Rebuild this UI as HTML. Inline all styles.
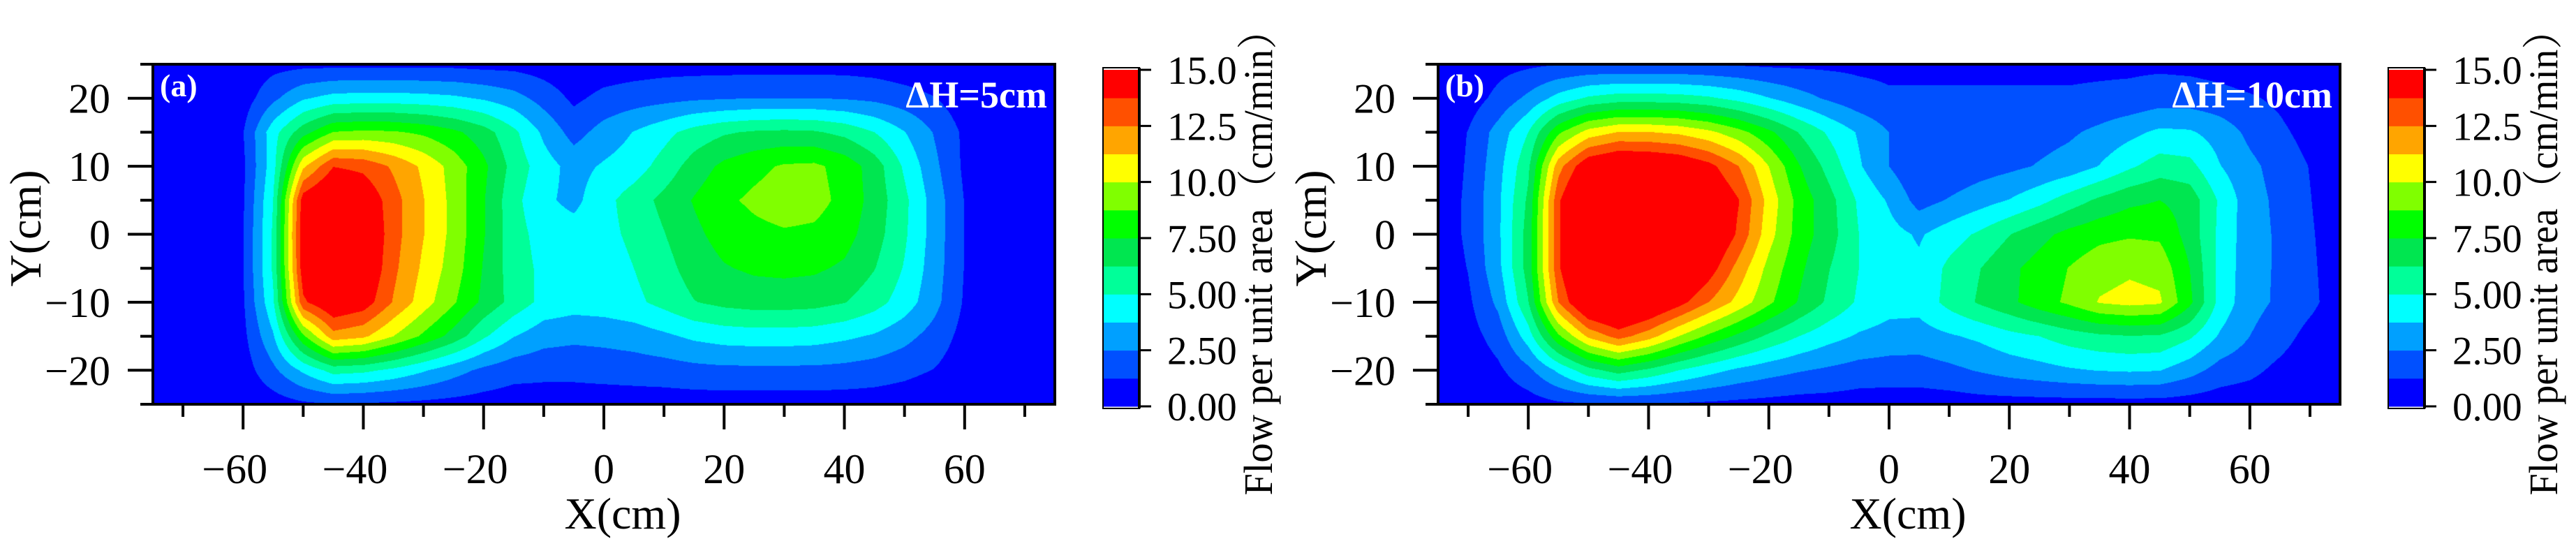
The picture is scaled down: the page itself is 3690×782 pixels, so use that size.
<!DOCTYPE html>
<html><head><meta charset="utf-8">
<style>
html,body{margin:0;padding:0;background:#fff;}
body{width:3690px;height:782px;position:relative;overflow:hidden;font-family:"Liberation Serif","Noto Serif CJK SC",serif;}
canvas{position:absolute;}
svg{position:absolute;left:0;top:0;}
</style></head>
<body>
<canvas id="heatA" width="1292" height="487" style="left:219px;top:92px;"></canvas>
<canvas id="heatB" width="1292" height="487" style="left:2060px;top:92px;"></canvas>
<svg id="axes" width="3690" height="782" xmlns="http://www.w3.org/2000/svg"></svg>
<script>
const xNodes = [-75,-70,-65,-60,-55,-50,-45,-40,-35,-30,-25,-20,-15,-10,-5,0,5,10,15,20,25,30,35,40,45,50,55,60,65,70,75];
const yNodes = [25,20,15,10,5,0,-5,-10,-15,-20,-25];
const levels = [0,1.25,2.5,3.75,5,6.25,7.5,8.75,10,11.25,12.5,13.75,15];
const bandColors = ['#0000ff','#0050ff','#00a0ff','#00ffff','#00ff99','#00e650','#00ff00','#80ff00','#ffff00','#ffa500','#ff5000','#ff0000'];
const cbTickValues = [0,2.5,5,7.5,10,12.5,15];
const cbTickLabels = ['0.00','2.50','5.00','7.50','10.0','12.5','15.0'];
const xTickValues = [-70,-60,-50,-40,-30,-20,-10,0,10,20,30,40,50,60,70];
const yTickValues = [-25,-20,-15,-10,-5,0,5,10,15,20,25];
const gridA = [
[0,0,0,0.3,0.8,0.9,0.9,0.9,0.9,0.9,0.9,0.8,0.8,0.6,0.3,0.5,0.6,0.7,0.7,0.7,0.7,0.7,0.7,0.7,0.6,0.4,0.2,0,0,0,0],
[0,0,0,0.6,2.2,3.6,4.2,4.3,4.3,4.2,4.0,3.6,3.0,2.0,1.0,1.6,1.9,2.1,2.3,2.4,2.5,2.5,2.5,2.4,2.2,1.8,1.3,0.5,0,0,0],
[0,0,0,1.2,4.5,7.0,8.8,9.0,8.9,8.5,7.8,6.8,5.3,3.5,2.0,3.0,3.8,4.6,5.5,6.1,6.4,6.5,6.4,5.9,5.0,3.8,2.4,1.0,0,0,0],
[0,0,0,1.0,4.5,11.0,13.7,13.4,12.3,11.0,9.5,7.8,5.8,4.3,3.3,3.9,4.4,5.5,6.8,7.8,8.4,8.9,9.0,8.3,6.9,4.8,2.8,1.0,0.2,0,0],
[0,0,0,1.1,5.0,14.5,16.0,15.0,13.0,11.3,9.6,7.6,5.4,4.0,3.4,4.6,5.6,6.6,7.6,8.5,9.0,9.4,9.2,8.4,7.0,5.3,3.2,1.2,0.3,0,0],
[0,0,0,1.2,5.2,14.8,16.5,15.5,13.0,11.3,9.6,7.6,5.5,4.5,4.3,4.6,5.3,6.2,7.2,8.0,8.4,8.6,8.5,8.0,6.8,5.2,3.2,1.2,0.3,0,0],
[0,0,0,1.2,5.2,14.6,16.3,15.3,12.8,11.0,9.4,7.4,5.6,4.7,4.3,4.3,5.0,5.8,6.8,7.4,7.7,7.8,7.7,7.3,6.3,4.9,3.1,1.2,0.3,0,0],
[0,0,0,1.1,4.8,13.5,15.2,14.5,12.4,10.6,8.9,7.2,5.8,4.6,4.3,4.4,4.7,5.4,6.2,6.6,6.8,6.8,6.7,6.3,5.5,4.4,2.9,1.1,0.3,0,0],
[0,0,0,0.9,3.6,8.5,12.0,11.5,10.0,8.5,7.0,5.2,3.8,3.0,2.8,2.9,3.1,3.5,4.0,4.3,4.4,4.4,4.3,4.0,3.6,2.9,2.0,0.8,0.2,0,0],
[0,0,0,0.6,2.2,4.0,5.5,5.3,4.7,3.9,3.0,2.2,1.7,1.6,1.6,1.7,1.8,1.9,2.1,2.2,2.2,2.2,2.2,2.1,1.9,1.6,1.2,0.5,0.1,0,0],
[0,0,0,0.2,0.6,1.0,1.2,1.1,1.0,0.9,0.8,0.7,0.6,0.6,0.6,0.6,0.6,0.6,0.6,0.6,0.6,0.6,0.6,0.6,0.6,0.5,0.3,0.1,0,0,0]
];
const gridB = [
[0,0.3,0.8,1.0,1.2,1.3,1.3,1.3,1.3,1.2,1.1,1.0,1.0,1.0,1.0,1.0,1.0,1.0,1.0,1.0,1.0,1.0,1.0,1.0,1.0,0.9,0.7,0.4,0.1,0,0],
[0,0.6,1.6,2.8,4.2,5.2,5.6,5.6,5.5,5.2,4.6,3.8,3.0,2.3,1.7,1.4,1.4,1.4,1.4,1.4,1.4,1.4,1.5,1.6,1.9,1.9,1.7,1.4,1.0,0.4,0],
[0.2,1.3,3.0,5.0,8.5,10.5,11.3,11.3,11.0,10.3,9.2,7.8,6.2,4.8,3.6,2.5,1.6,1.6,1.7,1.8,2.0,2.3,2.8,3.4,4.0,3.9,3.2,2.2,1.5,0.8,0.2],
[0.3,1.4,3.3,6.0,12.0,15.0,15.8,15.6,15.2,14.2,12.5,10.0,7.6,5.8,3.9,2.5,1.3,1.5,1.9,2.2,2.6,3.0,3.8,4.8,5.6,5.4,3.8,2.8,2.0,1.2,0.3],
[0.4,1.5,3.5,6.5,13.5,17.0,17.8,17.6,17.0,15.5,13.8,10.8,8.3,6.7,4.8,3.6,2.0,2.6,3.2,3.8,4.6,5.6,6.5,7.2,7.5,7.0,4.8,3.0,2.2,1.3,0.4],
[0.4,1.5,3.5,6.8,13.5,17.2,18.0,17.8,17.2,15.8,13.5,10.5,8.2,6.8,5.0,4.2,3.6,4.4,5.2,6.2,7.1,7.9,8.4,8.6,8.5,7.0,4.7,3.0,2.3,1.4,0.5],
[0.3,1.3,3.4,6.8,13.5,17.2,18.0,17.6,16.5,14.5,12.0,9.6,7.8,6.3,5.0,4.3,4.0,5.3,6.2,7.2,8.0,8.8,9.5,9.8,9.6,7.5,4.6,3.0,2.3,1.5,0.5],
[0.2,1.0,2.8,6.2,12.5,16.0,16.8,15.8,14.3,12.5,10.8,9.0,7.4,6.0,4.8,4.2,4.2,5.4,6.4,7.2,8.2,9.0,10.1,10.4,10.2,7.8,4.6,2.9,2.3,1.6,0.5],
[0.1,0.7,1.8,4.4,8.5,11.5,13.0,11.8,10.0,8.5,7.2,6.0,5.0,4.2,3.6,3.3,3.2,3.6,4.0,4.6,5.0,5.6,6.0,6.2,6.1,5.2,3.6,2.5,1.8,0.8,0.2],
[0,0.3,1.0,2.2,4.0,5.8,6.8,6.0,5.0,4.2,3.5,3.0,2.6,2.3,2.0,1.9,1.9,2.2,2.6,3.0,3.3,3.6,3.8,3.9,3.8,3.0,2.0,1.6,0.9,0.3,0],
[0,0,0.3,0.6,1.0,1.1,1.2,1.2,1.1,1.0,0.9,0.8,0.7,0.7,0.6,0.6,0.6,0.6,0.7,0.7,0.7,0.7,0.7,0.7,0.7,0.6,0.5,0.4,0.2,0,0]
];

const PX0 = 219, PY0 = 92, PW = 1292, PH = 487;
const X_MIN = -75, X_MAX = 75, Y_MIN = -25, Y_MAX = 25;
function xScale(v, ox){ return ox + PX0 + (v - X_MIN) / (X_MAX - X_MIN) * PW; }
function yScale(v){ return PY0 + (Y_MAX - v) / (Y_MAX - Y_MIN) * PH; }
const CB_X = 1580, CB_W = 52, CB_TOP = 100, CB_BOT = 582;
function cbScale(v){ return CB_BOT - (v - levels[0]) / (levels[levels.length-1] - levels[0]) * (CB_BOT - CB_TOP); }

function findIdx(nodes, v, desc){
  for (let i = 0; i < nodes.length - 1; i++){
    const a = nodes[i], b = nodes[i+1];
    if (desc ? (v <= a && v >= b) : (v >= a && v <= b)) return i;
  }
  return desc ? (v > nodes[0] ? 0 : nodes.length - 2) : (v < nodes[0] ? 0 : nodes.length - 2);
}
function sample(grid, x, y){
  const i = findIdx(xNodes, x, false), j = findIdx(yNodes, y, true);
  const tx = Math.min(1, Math.max(0, (x - xNodes[i]) / (xNodes[i+1] - xNodes[i])));
  const ty = Math.min(1, Math.max(0, (y - yNodes[j]) / (yNodes[j+1] - yNodes[j])));
  const a = grid[j][i], b = grid[j][i+1], c = grid[j+1][i], d = grid[j+1][i+1];
  return (a*(1-tx) + b*tx)*(1-ty) + (c*(1-tx) + d*tx)*ty;
}
function hexRgb(h){ return [parseInt(h.substr(1,2),16), parseInt(h.substr(3,2),16), parseInt(h.substr(5,2),16)]; }
const rgbBands = bandColors.map(hexRgb);
function bandOf(v){
  for (let k = levels.length - 2; k >= 0; k--) if (v >= levels[k]) return k;
  return 0;
}
function drawHeat(id, grid){
  const cv = document.getElementById(id), ctx = cv.getContext('2d');
  const img = ctx.createImageData(cv.width, cv.height);
  for (let py = 0; py < cv.height; py++){
    const y = Y_MAX - (py + 0.5) / cv.height * (Y_MAX - Y_MIN);
    for (let px = 0; px < cv.width; px++){
      const x = X_MIN + (px + 0.5) / cv.width * (X_MAX - X_MIN);
      const c = rgbBands[bandOf(sample(grid, x, y))];
      const o = (py * cv.width + px) * 4;
      img.data[o] = c[0]; img.data[o+1] = c[1]; img.data[o+2] = c[2]; img.data[o+3] = 255;
    }
  }
  ctx.putImageData(img, 0, 0);
}
drawHeat('heatA', gridA);
drawHeat('heatB', gridB);

const NS = 'http://www.w3.org/2000/svg';
const svg = document.getElementById('axes');
function mk(tag, attrs, parent){
  const e = document.createElementNS(NS, tag);
  for (const k in attrs) e.setAttribute(k, attrs[k]);
  (parent || svg).appendChild(e);
  return e;
}
function fmt(v){ return v < 0 ? '\u2212' + Math.abs(v) : String(v); }

function drawPanel(ox, tag, dh){
  const g = mk('g', {});
  
  
  const frame = mk('rect', {x: ox+PX0, y: PY0, width: PW, height: PH, fill: 'none', stroke: '#000', 'stroke-width': 4}, g);
  
  
  yTickValues.forEach(v => {
    const major = v % 10 === 0;
    const y = yScale(v);
    const t = mk('line', {x1: ox+PX0, x2: ox+PX0 - (major ? 36 : 18), y1: y, y2: y, stroke: '#000', 'stroke-width': 4}, g);
    
    
    if (major){
      const tx = mk('text', {x: ox+158, y: y + 21, 'text-anchor': 'end', 'font-size': 60, fill: '#000'}, g);
      tx.textContent = fmt(v);
      
      
    }
  });
  xTickValues.forEach(v => {
    const major = v % 20 === 0;
    const x = xScale(v, ox);
    const t = mk('line', {x1: x, x2: x, y1: PY0+PH, y2: PY0+PH + (major ? 36 : 18), stroke: '#000', 'stroke-width': 4}, g);
    
    
    if (major){
      const tx = mk('text', {x: x - (v < 0 ? 12 : 0), y: 692, 'text-anchor': 'middle', 'font-size': 60, fill: '#000'}, g);
      tx.textContent = fmt(v);
      
      
    }
  });
  const yt = mk('text', {x: 0, y: 0, transform: 'translate(' + (ox+58) + ',327) rotate(-90)', 'text-anchor': 'middle', 'font-size': 64, fill: '#000'}, g);
  yt.textContent = 'Y(cm)';
  
  
  const xt = mk('text', {x: ox+892, y: 757, 'text-anchor': 'middle', 'font-size': 64, fill: '#000'}, g);
  xt.textContent = 'X(cm)';
  
  
  const pl = mk('text', {x: ox+229, y: 138, 'font-size': 46, 'font-weight': 'bold', fill: '#fff'}, g);
  pl.textContent = '(' + tag + ')';
  
  
  const dl = mk('text', {x: ox+1500, y: 154, 'text-anchor': 'end', 'font-size': 54, 'font-weight': 'bold', fill: '#fff'}, g);
  dl.textContent = '\u0394H=' + dh;
  
  
  const cb = mk('g', {}, g);
  
  
  bandColors.forEach((c, k) => {
    const y1 = cbScale(levels[k+1]), y0 = cbScale(levels[k]);
    const r = mk('rect', {x: ox+CB_X, y: y1, width: CB_W, height: y0 - y1 + 0.5, fill: c}, cb);
    
    
  });
  mk('rect', {x: ox+CB_X, y: CB_TOP-3, width: CB_W, height: CB_BOT-CB_TOP+6, fill: 'none', stroke: '#000', 'stroke-width': 2}, cb);
  mk('line', {x1: ox+CB_X+CB_W, x2: ox+CB_X+CB_W, y1: CB_TOP-3, y2: CB_BOT+3, stroke: '#000', 'stroke-width': 4}, cb);
  cbTickValues.forEach((v, k) => {
    const y = cbScale(v);
    const t = mk('line', {x1: ox+CB_X+CB_W, x2: ox+CB_X+CB_W+17, y1: y, y2: y, stroke: '#000', 'stroke-width': 3}, cb);
    
    
    const tx = mk('text', {x: ox+1672, y: y + 20, 'font-size': 57, fill: '#000'}, cb);
    tx.textContent = cbTickLabels[k];
    
    
  });
  const ct = mk('text', {x: 0, y: 0, transform: 'translate(' + (ox+1822) + ',362) rotate(-90)', 'text-anchor': 'middle', 'font-size': 58, fill: '#000', textLength: 695, lengthAdjust: 'spacingAndGlyphs'}, cb);
  ct.textContent = 'Flow per unit area\uFF08cm/min\uFF09';
  
  
}
drawPanel(0, 'a', '5cm');
drawPanel(1841, 'b', '10cm');
</script>
</body></html>
